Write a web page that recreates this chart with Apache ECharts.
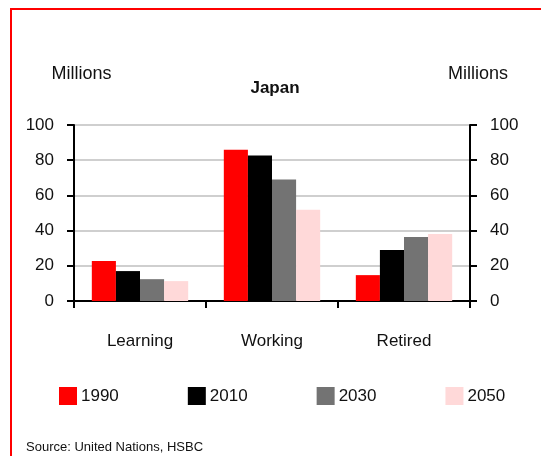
<!DOCTYPE html>
<html>
<head>
<meta charset="utf-8">
<script src="https://cdn.jsdelivr.net/npm/echarts@6/dist/echarts.min.js"></script>
<style>
  html, body { margin: 0; padding: 0; background: #fff; }
  #chart { width: 541px; height: 456px; }
</style>
</head>
<body>
<div id="chart"></div>
<script>
// age groups
var categories = ["Learning", "Working", "Retired"];
var years = ["1990", "2010", "2030", "2050"];
// millions of people
var v1990 = [22.7, 86, 14.7];
var v2010 = [17, 82.7, 29];
var v2030 = [12.4, 69, 36.4];
var v2050 = [11.3, 51.8, 38.1];
var yTicks = [0, 20, 40, 60, 80, 100];

var colors = ["#ff0000", "#000000", "#737373", "#ffd9d9"];
var font = "'Liberation Sans', Arial, sans-serif";

var chart = echarts.init(document.getElementById("chart"));

function yAxisFor(pos) {
  return {
    type: "value",
    position: pos,
    min: yTicks[0],
    max: yTicks[yTicks.length - 1],
    interval: 20,
    name: "Millions",
    nameLocation: "end",
    nameGap: 42,
    nameTextStyle: {
      color: "#111",
      fontFamily: font,
      fontSize: 18,
      padding: pos === "left" ? [0, 0, 0, 15] : [0, 0, 0, 16]
    },
    axisLine: { show: true, lineStyle: { color: "#000", width: 2 } },
    axisTick: { show: true, inside: false, length: 7, lineStyle: { color: "#000", width: 2 } },
    axisLabel: { color: "#111", fontFamily: font, fontSize: 17, margin: 20 },
    splitLine: { show: pos === "left", lineStyle: { color: "#cfcfcf", width: 2 } }
  };
}

var series = [v1990, v2010, v2030, v2050].map(function (vals, i) {
  return {
    name: years[i],
    type: "bar",
    data: vals,
    barGap: "0%",
    barCategoryGap: "27%",
    itemStyle: { color: colors[i] }
  };
});

chart.setOption({
  animation: false,
  color: colors,
  title: {
    text: "Japan",
    left: 270,
    top: 75,
    textAlign: "center",
    textStyle: { fontFamily: font, fontSize: 17, fontWeight: "bold", color: "#111" }
  },
  grid: { left: 74, right: 71, top: 125, bottom: 155, containLabel: false },
  legend: {
    data: years,
    left: 54,
    top: 382,
    itemWidth: 18,
    itemHeight: 18,
    itemGap: 69,
    icon: "rect",
    textStyle: { fontFamily: font, fontSize: 17, color: "#111", padding: [0, 0, 0, -1] }
  },
  xAxis: {
    type: "category",
    data: categories,
    axisLine: { lineStyle: { color: "#000", width: 2 } },
    axisTick: { show: true, length: 7, lineStyle: { color: "#000", width: 2 } },
    axisLabel: { color: "#111", fontFamily: font, fontSize: 17, margin: 32 }
  },
  yAxis: [yAxisFor("left"), yAxisFor("right")],
  series: series,
  graphic: [
    {
      type: "rect",
      shape: { x: 11, y: 9, width: 700, height: 700 },
      style: { fill: null, stroke: "#ff0000", lineWidth: 2 }
    },
    {
      type: "text",
      left: 26,
      top: 441,
      style: { text: "Source: United Nations, HSBC", fontFamily: font, fontSize: 13, fill: "#111" }
    }
  ]
});
</script>
</body>
</html>
